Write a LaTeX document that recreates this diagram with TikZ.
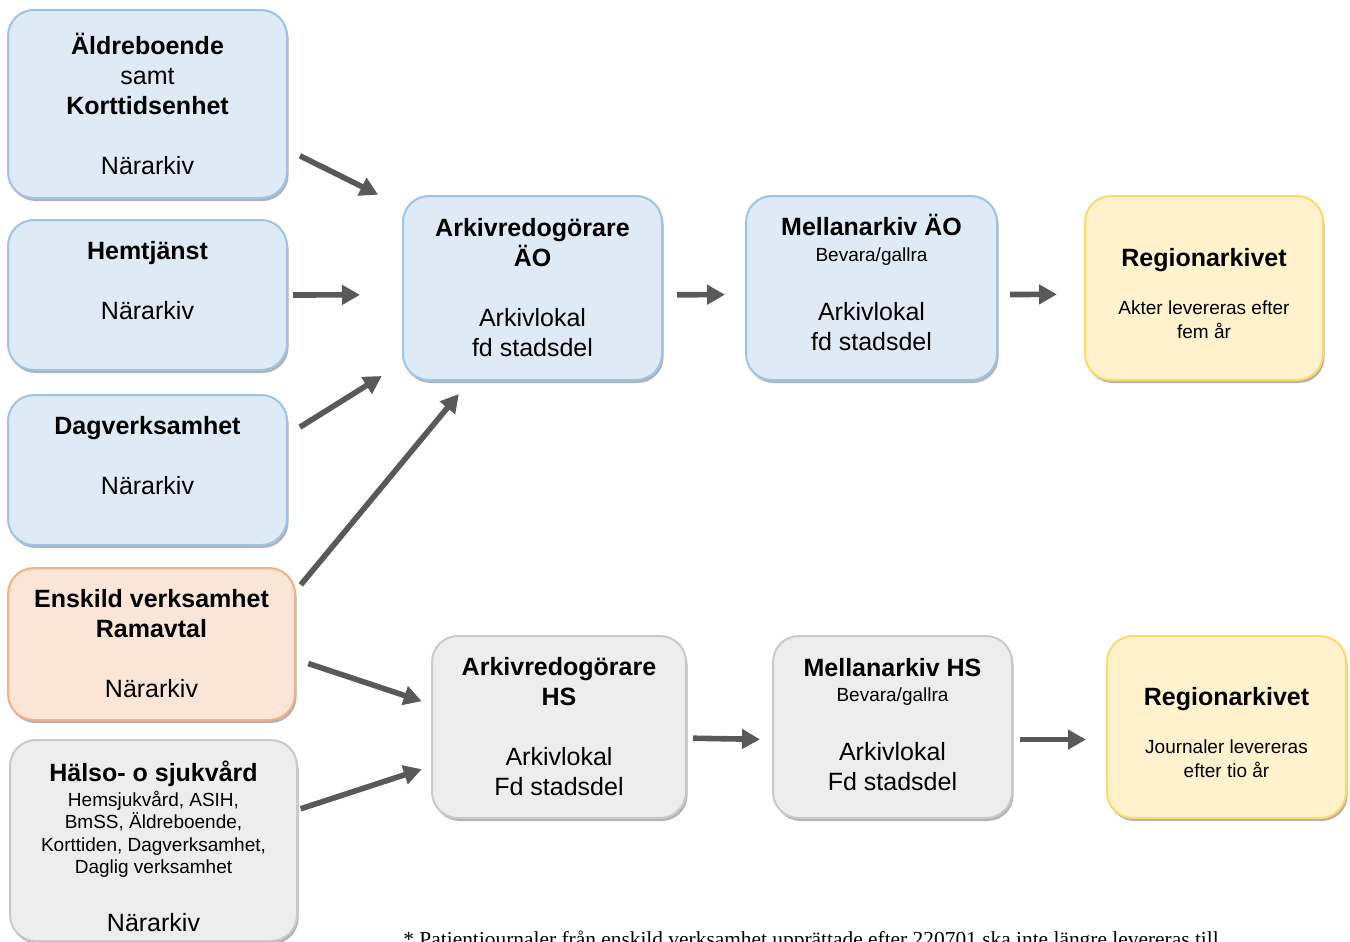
\documentclass[tikz,border=0pt]{standalone}
\usepackage{fontspec}
\setmainfont{Liberation Sans}
\newfontfamily\notefont{Liberation Serif}
\usetikzlibrary{arrows.meta,shadows}
\definecolor{blfill}{HTML}{DEEBF7}
\definecolor{bldraw}{HTML}{9DC3E6}
\definecolor{orfill}{HTML}{FBE5D6}
\definecolor{ordraw}{HTML}{F4B183}
\definecolor{yefill}{HTML}{FFF2CC}
\definecolor{yedraw}{HTML}{FFD966}
\definecolor{grfill}{HTML}{EDEDED}
\definecolor{grdraw}{HTML}{C9C9C9}
\definecolor{arrgray}{HTML}{595959}
\begin{document}
\begin{tikzpicture}[x=.5pt,y=-.5pt,font=\fontsize{12.5}{15}\selectfont,
 box/.style={line width=1pt,rounded corners=13pt,align=center,inner sep=0pt,outer sep=0pt,
  drop shadow={shadow xshift=.8pt,shadow yshift=-1.5pt,opacity=.3,fill=black}},
 blbox/.style={box,fill=blfill,draw=bldraw},
 orbox/.style={box,fill=orfill,draw=ordraw},
 yebox/.style={box,fill=yefill,draw=yedraw},
 grbox/.style={box,fill=grfill,draw=grdraw},
 arr/.style={draw=arrgray,line width=2.8pt,-{Triangle[length=9pt,width=9.5pt]}}]
\useasboundingbox (0,0) rectangle (1350,942);
\node[blbox,minimum width=139.5pt,minimum height=94pt] (aldre) at (147.5,104) {\textbf{Äldreboende}\\samt\\\textbf{Korttidsenhet}\\[15pt]Närarkiv};
\node[blbox,minimum width=139.5pt,minimum height=75pt] (hemtj) at (147.5,295) {\textbf{Hemtjänst}\\[15pt]Närarkiv\\\mbox{}};
\node[blbox,minimum width=139.5pt,minimum height=75pt] (dagv) at (147.5,470) {\textbf{Dagverksamhet}\\[15pt]Närarkiv\\\mbox{}};
\node[orbox,minimum width=143.5pt,minimum height=76pt] (enskild) at (151.5,644) {\textbf{Enskild verksamhet}\\\textbf{Ramavtal}\\[15pt]Närarkiv};
\node[grbox,minimum width=143.5pt,minimum height=100.5pt] (halso) at (153.5,840.5) {\mbox{}\\[1pt]\textbf{Hälso- o sjukvård}\\[-2.5pt]{\fontsize{9.5}{11.5}\selectfont Hemsjukvård, ASIH,}\\[-3.75pt]{\fontsize{9.5}{11.5}\selectfont BmSS, Äldreboende,}\\[-3.75pt]{\fontsize{9.5}{11.5}\selectfont Korttiden, Dagverksamhet,}\\[-3.75pt]{\fontsize{9.5}{11.5}\selectfont Daglig verksamhet}\\[14pt]Närarkiv};
\node[blbox,minimum width=129.5pt,minimum height=92pt] (arkAO) at (532.5,288) {\textbf{Arkivredogörare}\\\textbf{ÄO}\\[15pt]Arkivlokal\\fd stadsdel};
\node[blbox,minimum width=125.5pt,minimum height=92pt] (melAO) at (871.5,288) {\textbf{Mellanarkiv ÄO}\\[-2pt]{\fontsize{9.5}{11.5}\selectfont Bevara/gallra}\\[14.5pt]Arkivlokal\\fd stadsdel\\[-9pt]\mbox{}};
\node[yebox,minimum width=119pt,minimum height=92pt] (regAO) at (1204,288) {\mbox{}\\\textbf{Regionarkivet}\\[9pt]{\fontsize{9.5}{11.5}\selectfont Akter levereras efter}\\[-3pt]{\fontsize{9.5}{11.5}\selectfont fem år}};
\node[grbox,minimum width=127pt,minimum height=91pt] (arkHS) at (559,727) {\textbf{Arkivredogörare}\\\textbf{HS}\\[15pt]Arkivlokal\\Fd stadsdel};
\node[grbox,minimum width=119.5pt,minimum height=91pt] (melHS) at (892.5,727) {\textbf{Mellanarkiv HS}\\[-2.5pt]{\fontsize{9.5}{11.5}\selectfont Bevara/gallra}\\[14.5pt]Arkivlokal\\Fd stadsdel\\[-12pt]\mbox{}};
\node[yebox,minimum width=119.5pt,minimum height=91pt] (regHS) at (1226.5,727) {\mbox{}\\\textbf{Regionarkivet}\\[9pt]{\fontsize{9.5}{11.5}\selectfont Journaler levereras}\\[-3pt]{\fontsize{9.5}{11.5}\selectfont efter tio år}};
\node[font=\notefont\fontsize{10.7}{12}\selectfont,anchor=base west,inner sep=0pt] (note) at (403,946) {* Patientjournaler från enskild verksamhet upprättade efter 220701 ska inte längre levereras till};
\draw[arr,shorten <=7.2pt,shorten >=13.9pt] (aldre.-18.9) -- (arkAO.148.4);
\draw[arr,shorten <=3pt,shorten >=21.5pt] (hemtj.east) -- (arkAO.183.1);
\draw[arr,shorten <=7.6pt,shorten >=12.5pt] (dagv.14.1) -- (arkAO.210.5);
\draw[arr,shorten <=4.5pt,shorten >=9.1pt] (enskild.20) -- (arkAO.236.5);
\draw[arr,shorten <=7pt,shorten >=5.4pt] (enskild.-6.2) -- (arkHS.170.2);
\draw[arr,shorten <=1.9pt,shorten >=5.4pt] (halso.12.8) -- (arkHS.197.7);
\draw[arr,shorten <=7.5pt,shorten >=10.5pt] (arkAO.-3.1) -- (melAO.183.2);
\draw[arr,shorten <=6.5pt,shorten >=14pt] (melAO.-3.2) -- (regAO.183.4);
\draw[arr,shorten <=3.5pt,shorten >=6.5pt] (arkHS.-5.8) -- (melHS.186.2);
\draw[arr,shorten <=4pt,shorten >=10.5pt] (melHS.-6.2) -- (regHS.186.2);
\end{tikzpicture}
\end{document}
